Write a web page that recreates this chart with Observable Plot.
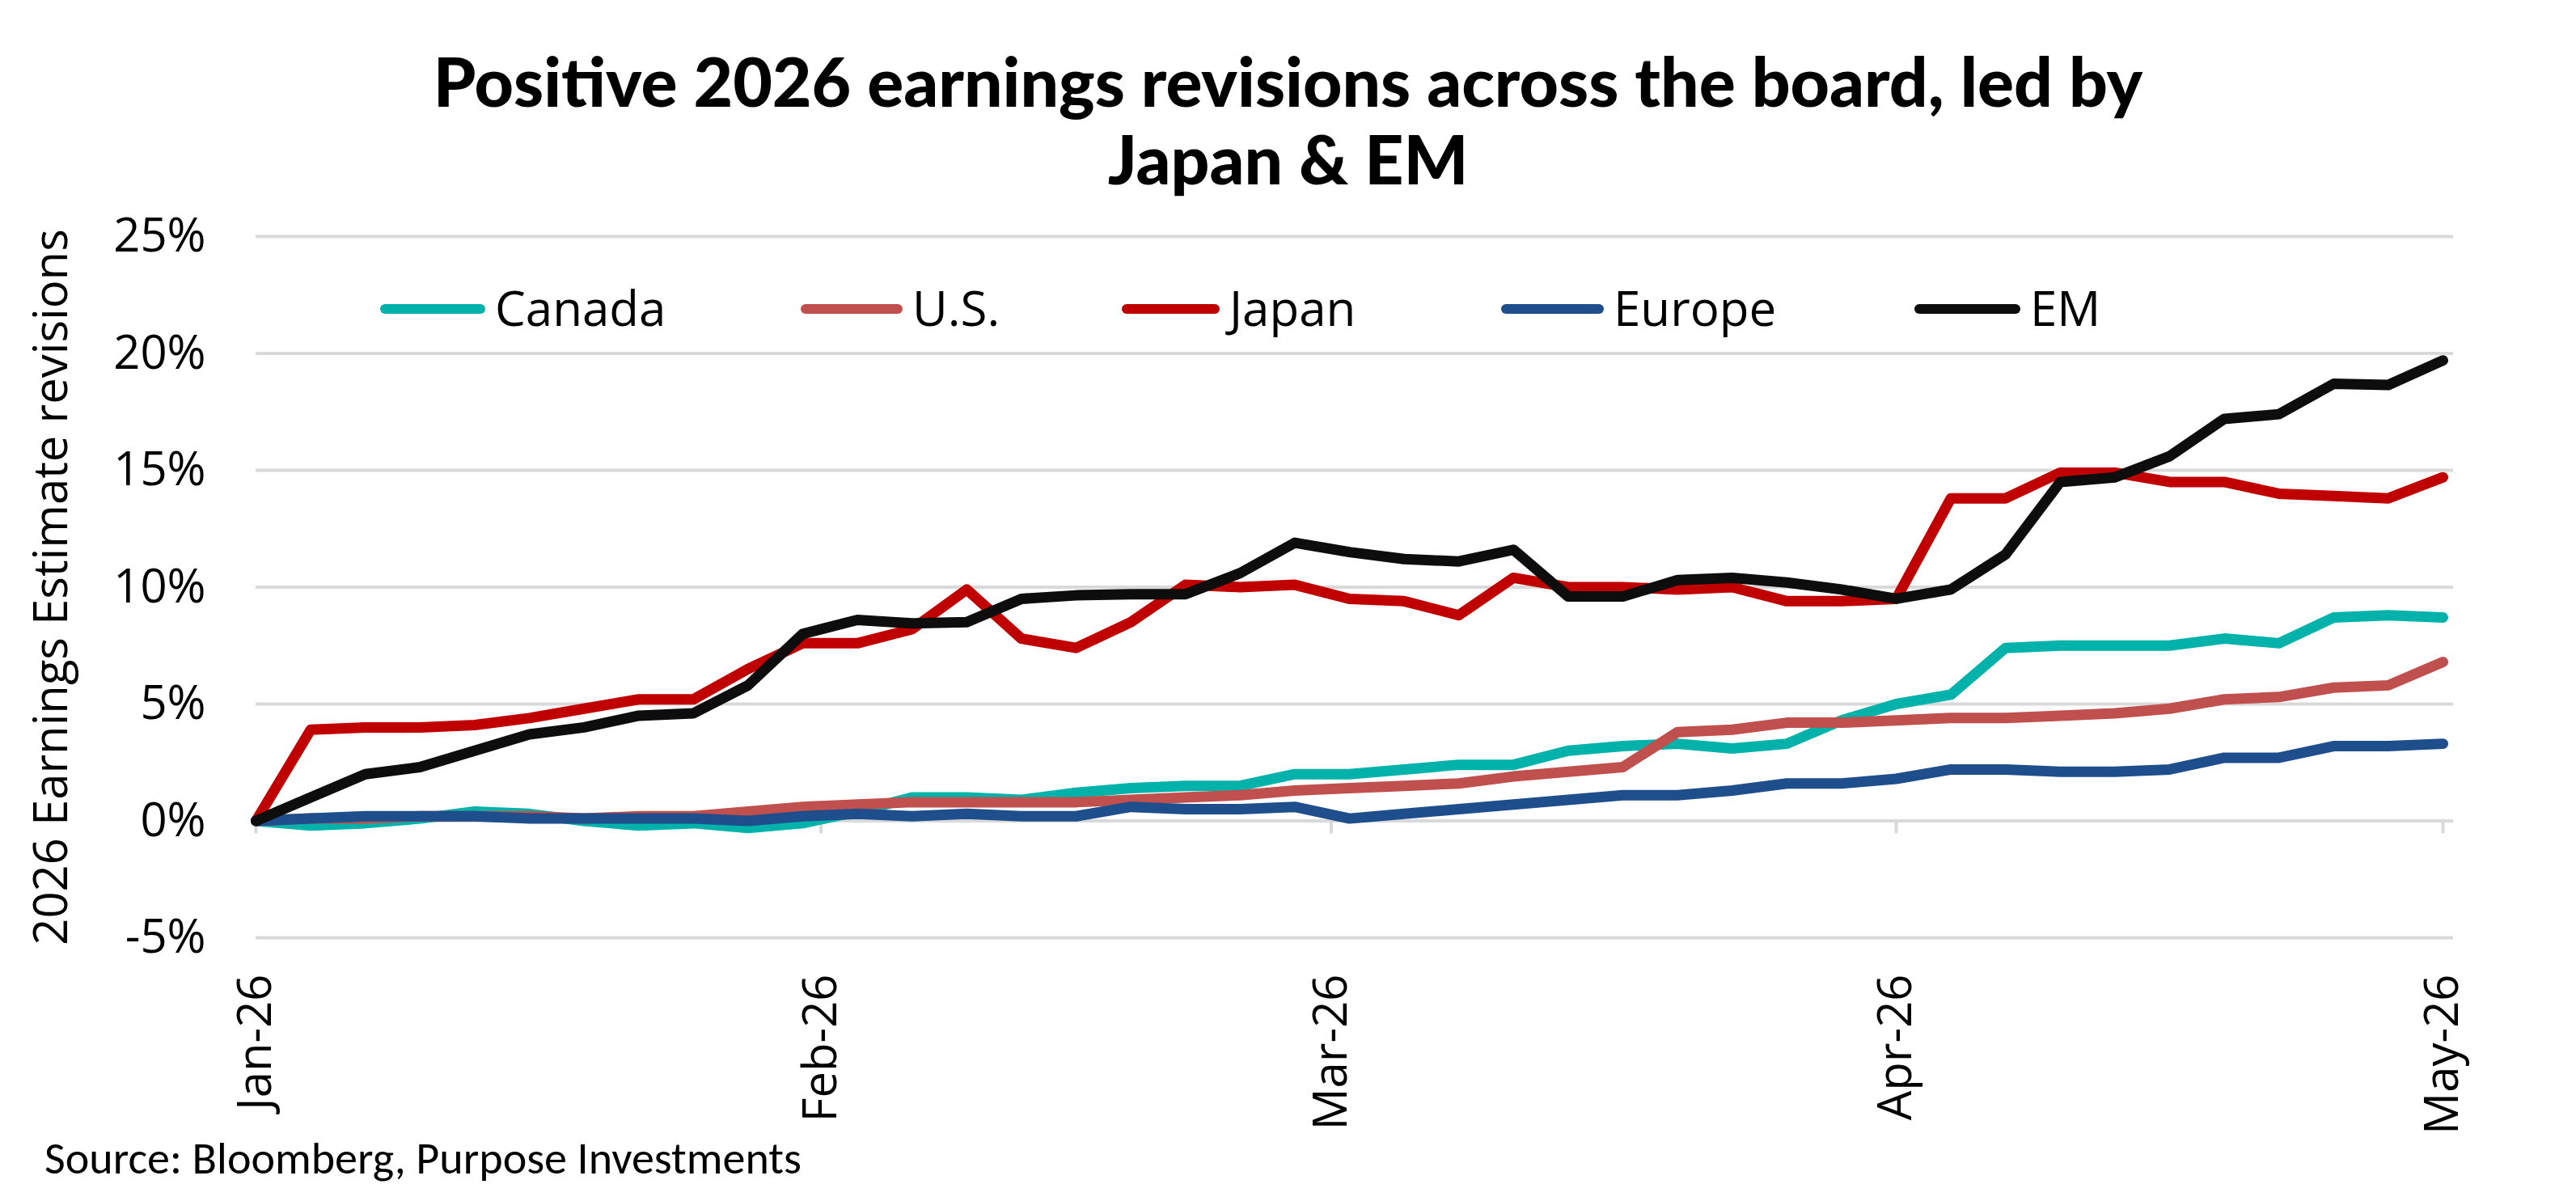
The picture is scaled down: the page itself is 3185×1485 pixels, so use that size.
<!DOCTYPE html>
<html><head><meta charset="utf-8">
<script src="https://cdn.jsdelivr.net/npm/d3@7"></script>
<script src="https://cdn.jsdelivr.net/npm/@observablehq/plot@0.6"></script>
<style>
body{margin:0;background:#fff;width:3185px;height:1485px;position:relative;overflow:hidden;font-family:"Open Sans",sans-serif;}
#title{position:absolute;top:52px;left:0;width:3185px;text-align:center;font-family:Lato;font-weight:900;font-size:84px;line-height:96px;color:#000;z-index:2;}
#chart{position:absolute;top:240px;left:0;}
#chart svg{background:transparent !important;}
#legend{position:absolute;top:345px;left:0;width:3185px;height:70px;}
.li{position:absolute;font-size:60px;line-height:70px;color:#000;}
.sw{position:absolute;height:12px;border-radius:6px;top:31px;}
#src{position:absolute;left:55px;top:1398px;font-size:56px;font-family:Carlito,"Liberation Sans",sans-serif;color:#000;}
</style></head><body>
<div id="title">Positive 2026 earnings revisions across the board, led by<br>Japan &amp; EM</div>
<div id="chart"></div>
<div id="legend"></div>
<div id="src">Source: Bloomberg, Purpose Investments</div>
<script>
const series = ["Canada","U.S.","Japan","Europe","EM"];
const colors = ["#00B2A9","#C0504D","#C00000","#1F4E8C","#0D0D0D"];
const canada = [0,-0.2,-0.1,0.1,0.4,0.3,0.0,-0.2,-0.1,-0.3,-0.1,0.4,1.0,1.0,0.9,1.2,1.4,1.5,1.5,2.0,2.0,2.2,2.4,2.4,3.0,3.2,3.3,3.1,3.3,4.3,5.0,5.4,7.4,7.5,7.5,7.5,7.8,7.6,8.7,8.8,8.7];
const us = [0,0.1,0.1,0.2,0.2,0.2,0.1,0.2,0.2,0.4,0.6,0.7,0.8,0.8,0.8,0.8,0.9,1.0,1.1,1.3,1.4,1.5,1.6,1.9,2.1,2.3,3.8,3.9,4.2,4.2,4.3,4.4,4.4,4.5,4.6,4.8,5.2,5.3,5.7,5.8,6.8];
const japan = [0,3.9,4.0,4.0,4.1,4.4,4.8,5.2,5.2,6.5,7.6,7.6,8.2,9.9,7.8,7.4,8.5,10.1,10.0,10.1,9.5,9.4,8.8,10.4,10.0,10.0,9.9,10.0,9.4,9.4,9.5,13.8,13.8,14.9,14.9,14.5,14.5,14.0,13.9,13.8,14.7];
const europe = [0,0.1,0.2,0.2,0.2,0.1,0.1,0.1,0.1,0.0,0.2,0.3,0.2,0.3,0.2,0.2,0.6,0.5,0.5,0.6,0.1,0.3,0.5,0.7,0.9,1.1,1.1,1.3,1.6,1.6,1.8,2.2,2.2,2.1,2.1,2.2,2.7,2.7,3.2,3.2,3.3];
const em = [0,1.0,2.0,2.3,3.0,3.7,4.0,4.5,4.6,5.8,8.0,8.6,8.45,8.5,9.5,9.65,9.7,9.7,10.6,11.9,11.5,11.2,11.1,11.6,9.6,9.6,10.3,10.4,10.2,9.9,9.5,9.9,11.4,14.5,14.7,15.6,17.2,17.4,18.7,18.65,19.7];
const monthTicks = [new Date(2026,0,1),new Date(2026,1,1),new Date(2026,2,1),new Date(2026,3,1),new Date(2026,4,1)];
const yTicks = [-5,0,5,10,15,20,25];
const values = [canada,us,japan,europe,em];
const start = new Date(2026,0,1);
const data = [];
series.forEach((s,i)=>values[i].forEach((v,k)=>{
  const d = new Date(start); d.setDate(1+3*k);
  if (k===values[i].length-1) d.setTime(new Date(2026,4,1).getTime());
  data.push({series:s,date:d,value:v});
}));
const chart = Plot.plot({
  width:3185,height:1180,
  marginTop:52,marginBottom:261,marginLeft:316,marginRight:165,
  style:{fontFamily:"Open Sans",fontSize:"58px",color:"#000",background:"transparent"},
  x:{type:"time",domain:[new Date(2026,0,1),new Date(2026,4,1)]},
  y:{domain:[-5,25]},
  color:{domain:series,range:colors},
  marks:[
    Plot.ruleY(yTicks.filter(d=>d!==0),{stroke:"#d9d9d9",strokeWidth:4,insetRight:-13}),
    Plot.ruleY([0],{stroke:"#d9d9d9",strokeWidth:4,insetRight:-13}),
    Plot.ruleX(monthTicks,{y1:0,y2:-0.55,stroke:"#d9d9d9",strokeWidth:4}),
    Plot.line(data,{x:"date",y:"value",z:"series",stroke:"series",strokeWidth:13,strokeLinejoin:"round",strokeLinecap:"round"}),
    Plot.axisY({ticks:yTicks,tickSize:0,tickPadding:62,tickFormat:d=>d+"%",label:"2026 Earnings Estimate revisions",labelAnchor:"center",labelArrow:"none",labelOffset:275,fontSize:58}),
    Plot.axisX({ticks:monthTicks,tickSize:0,tickPadding:45,tickRotate:-90,tickFormat:d3.timeFormat("%b-%y"),label:null,fontSize:58})
  ]
});
document.getElementById("chart").appendChild(chart);
const leg = document.getElementById("legend");
const pos = [[470,612],[990,1128],[1387,1520],[1856,1995],[2367,2510]];
series.forEach((s,i)=>{
  const sw=document.createElement("div");sw.className="sw";
  sw.style.left=pos[i][0]+"px";sw.style.width=(pos[i][1]-pos[i][0]-12)+"px";sw.style.background=colors[i];
  leg.appendChild(sw);
  const t=document.createElement("div");t.className="li";t.style.left=pos[i][1]+"px";t.textContent=s;
  leg.appendChild(t);
});
</script></body></html>
